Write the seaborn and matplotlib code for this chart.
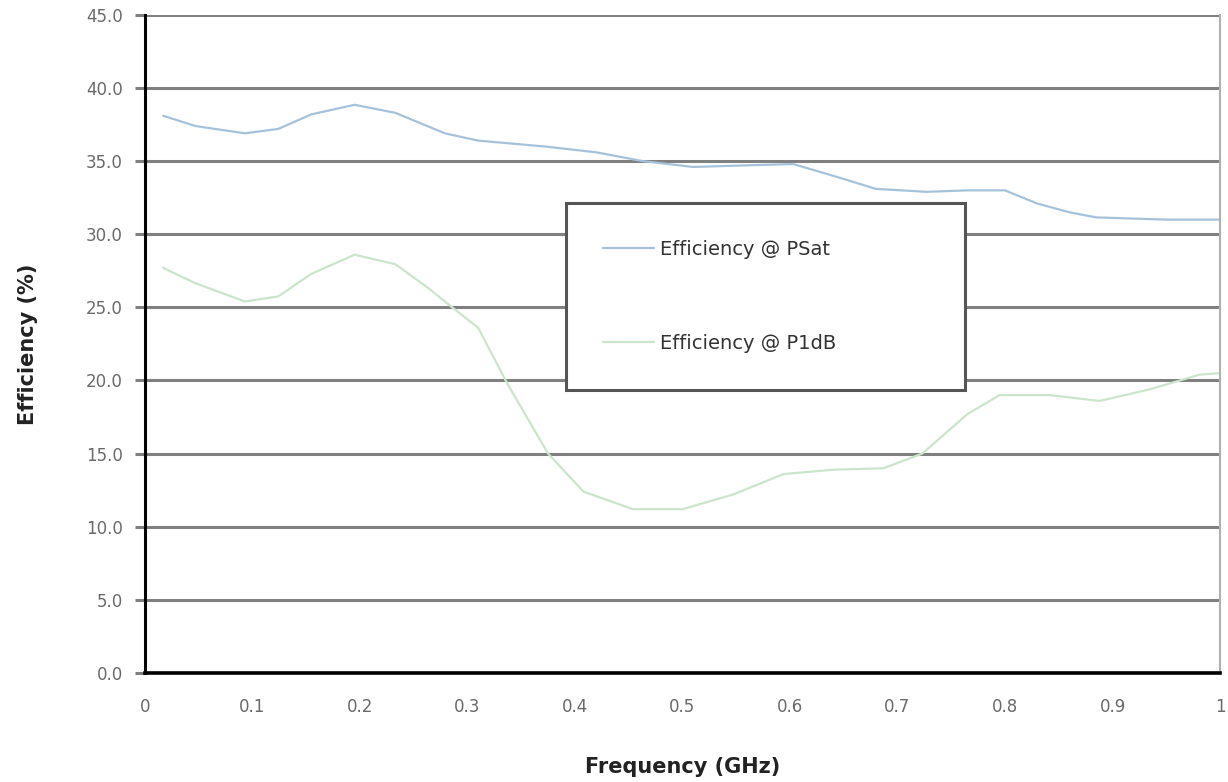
import pandas as pd
import numpy as np
import matplotlib.pyplot as plt
import seaborn as sns

# Values (frequency in GHz, efficiency in %)
freq_psat = [0.017, 0.047, 0.093, 0.124, 0.155, 0.195, 0.233, 0.279, 0.31, 0.372,
             0.42, 0.463, 0.51, 0.555, 0.603, 0.64, 0.68, 0.727, 0.765, 0.80,
             0.83, 0.86, 0.885, 0.95, 1.0]
eff_psat = [38.1, 37.4, 36.9, 37.2, 38.2, 38.85, 38.3, 36.9, 36.4, 36.0,
            35.6, 35.0, 34.6, 34.7, 34.8, 34.0, 33.1, 32.9, 33.0, 33.0,
            32.1, 31.5, 31.15, 31.0, 31.0]

freq_p1db = [0.017, 0.047, 0.093, 0.124, 0.155, 0.195, 0.233, 0.264, 0.285, 0.31,
             0.337, 0.375, 0.408, 0.454, 0.5, 0.547, 0.594, 0.64, 0.687, 0.723,
             0.765, 0.795, 0.842, 0.888, 0.935, 0.981, 1.0]
eff_p1db = [27.7, 26.65, 25.4, 25.75, 27.3, 28.6, 27.95, 26.3, 25.05, 23.6,
            19.8, 15.0, 12.4, 11.2, 11.2, 12.2, 13.6, 13.9, 14.0, 15.0,
            17.7, 19.0, 19.0, 18.6, 19.4, 20.4, 20.5]

series_names = ['Efficiency @ PSat', 'Efficiency @ P1dB']
x_ticks = [0, 0.1, 0.2, 0.3, 0.4, 0.5, 0.6, 0.7, 0.8, 0.9, 1.0]
x_tick_labels = ['0', '0.1', '0.2', '0.3', '0.4', '0.5', '0.6', '0.7', '0.8', '0.9', '1']
y_ticks = [0, 5, 10, 15, 20, 25, 30, 35, 40, 45]

df = pd.DataFrame({
    'freq': freq_psat + freq_p1db,
    'eff': eff_psat + eff_p1db,
    'series': [series_names[0]] * len(freq_psat) + [series_names[1]] * len(freq_p1db),
})

sns.set_theme(style="white")
plt.rcParams['font.family'] = ['DejaVu Sans']

palette = {
    'Efficiency @ PSat': '#a6c2db',   # pale steel blue
    'Efficiency @ P1dB': '#cbe5cb',   # pale green
}

fig, ax = plt.subplots(figsize=(12.28, 7.82), dpi=100)
fig.subplots_adjust(left=0.118, right=0.9935, bottom=0.1394, top=0.981)

sns.lineplot(data=df, x='freq', y='eff', hue='series', palette=palette,
             hue_order=series_names, linewidth=1.6, ax=ax)

ax.set_xlim(0, 1)
ax.set_ylim(0, 45)
ax.set_xticks(x_ticks)
ax.set_xticklabels(x_tick_labels)
ax.set_yticks(y_ticks)
ax.set_yticklabels([f'{v:.1f}' for v in y_ticks])

# horizontal grid like the old spreadsheet chart
ax.yaxis.grid(True, color='#808080', linewidth=2.2)
ax.xaxis.grid(False)
ax.set_axisbelow(True)

ax.spines['left'].set_color('black')
ax.spines['left'].set_linewidth(2.2)
ax.spines['bottom'].set_color('black')
ax.spines['bottom'].set_linewidth(2.6)
ax.spines['top'].set_visible(False)
ax.spines['right'].set_color('#b0b0b0')
ax.spines['right'].set_linewidth(1.5)

ax.tick_params(axis='y', which='major', left=True, length=7, width=2.2,
               color='#808080', pad=9, labelsize=12, labelcolor='#6a6a6a')
ax.tick_params(axis='x', which='major', bottom=False, pad=12,
               labelsize=12, labelcolor='#6a6a6a')

ax.set_xlabel('Frequency (GHz)', fontsize=15, fontweight='bold', color='#222222')
ax.set_ylabel('Efficiency (%)', fontsize=15, fontweight='bold', color='#222222')
ax.xaxis.set_label_coords(0.5, -0.128)
ax.yaxis.set_label_coords(-0.099, 0.5)

leg = ax.legend(loc='upper left', bbox_to_anchor=(0.392, 0.435, 0.371, 0.279),
                mode='expand', frameon=True, fancybox=False, fontsize=14,
                borderpad=1.9, labelspacing=3.85, handlelength=2.6,
                handletextpad=0.3, borderaxespad=0)
leg.get_frame().set_edgecolor('#555555')
leg.get_frame().set_linewidth(2.2)
leg.get_frame().set_alpha(1)
for t in leg.get_texts():
    t.set_color('#333333')
for line in leg.get_lines():
    line.set_linewidth(1.6)

plt.savefig('out.png', dpi=100)
plt.close()
